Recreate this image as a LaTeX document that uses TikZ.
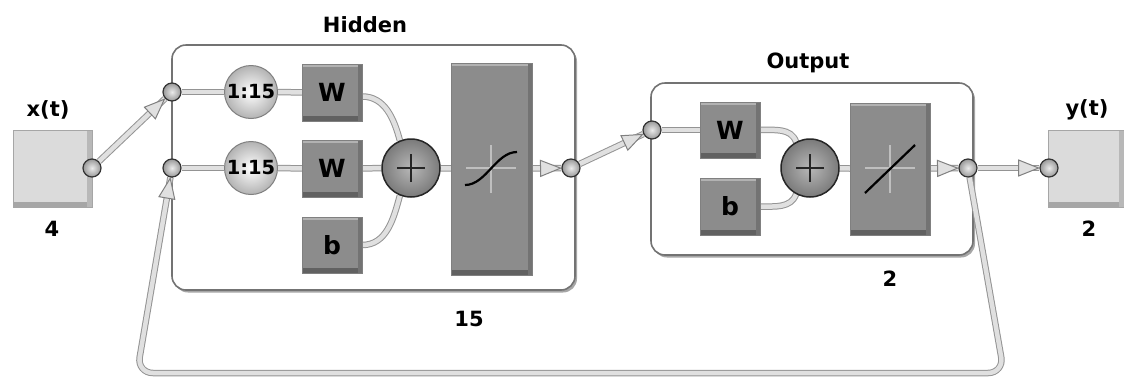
\documentclass[tikz,border=0pt]{standalone}
\usepackage{fontspec}
\setmainfont{DejaVu Sans}
\usetikzlibrary{shapes.geometric,shadows}
\pgfdeclarelayer{back}
\pgfdeclarelayer{mid}
\pgfsetlayers{back,mid,main}
\tikzset{
  lbl/.style={font=\bfseries\fontsize{21}{24}\selectfont, inner sep=0pt},
  group/.style={draw=black!55, line width=1.6pt, fill=white, rounded corners=14pt,
    drop shadow={shadow xshift=2pt, shadow yshift=-2.5pt, fill=black!35, opacity=1}},
  blk/.style={draw=black!50, fill=black!45, inner sep=0pt,
    font=\bfseries\fontsize{25}{26}\selectfont,
    path picture={
      \fill[black!30] (path picture bounding box.north west) rectangle ([yshift=-3pt]path picture bounding box.north east);
      \fill[black!62] (path picture bounding box.south west) rectangle ([yshift=5pt]path picture bounding box.south east);
      \fill[black!55] (path picture bounding box.south east) rectangle ([xshift=-4pt]path picture bounding box.north east);
    }},
  iobox/.style={draw=black!35, fill=black!14, inner sep=0pt, minimum width=77pt, minimum height=77pt,
    path picture={
      \fill[black!35] (path picture bounding box.south west) rectangle ([yshift=5pt]path picture bounding box.south east);
      \fill[black!28] (path picture bounding box.south east) rectangle ([xshift=-5pt]path picture bounding box.north east);
    }},
  jn/.style={circle, draw=black!80, line width=1.2pt, inner color=black!8, outer color=black!40,
    minimum size=18pt, inner sep=0pt},
  delay/.style={circle, draw=black!50, line width=1pt, inner color=white, outer color=black!30,
    minimum size=53pt, inner sep=0pt, font=\bfseries\fontsize{19.5}{20}\selectfont},
  sum/.style={circle, draw=black!85, line width=1.5pt, inner color=black!28, outer color=black!52,
    minimum size=58pt, inner sep=0pt,
    path picture={
      \draw[line width=2.6pt] ([xshift=-14pt]path picture bounding box.center) -- ([xshift=14pt]path picture bounding box.center);
      \draw[line width=2.6pt] ([yshift=-14pt]path picture bounding box.center) -- ([yshift=14pt]path picture bounding box.center);
    }},
  pipe/.style={draw=black!42, double=black!12, double distance=4.5pt, line width=1pt},
  tri/.style={isosceles triangle, isosceles triangle apex angle=70, isosceles triangle stretches,
    sharp corners, draw=black!50, fill=black!12, line width=1pt, minimum width=16pt, minimum height=20pt,
    inner sep=0pt, sloped},
  cross/.style={draw=black!25, line width=1.5pt},
  curve/.style={draw=black, line width=2.2pt}
}
\begin{document}
\begin{tikzpicture}[x=1pt,y=-1pt]
\useasboundingbox (0,0) rectangle (1124,381);

% groups
\begin{pgfonlayer}{back}
\node[group, minimum width=403pt, minimum height=245pt] (hidden) at (373.5,167.5) {};
\node[group, minimum width=322pt, minimum height=172pt] (output) at (812,169) {};
\end{pgfonlayer}

% labels
\node[lbl] (lx) at (48,110) {x(t)};
\node[lbl] (l4) at (52,229) {4};
\node[lbl] (lh) at (365,25) {Hidden};
\node[lbl] (l15) at (469,319) {15};
\node[lbl] (lo) at (808,63) {Output};
\node[lbl] (l2a) at (890,279) {2};
\node[lbl] (ly) at (1087,110) {y(t)};
\node[lbl] (l2b) at (1089,229) {2};

% io boxes
\node[iobox, minimum width=79pt] (xin) at (52.5,168.5) {};
\node[iobox, minimum width=76pt] (yout) at (1086,168.5) {};

% hidden layer
\node[delay] (d1) at (251,92) {1:15};
\node[delay] (d2) at (251,168) {1:15};
\node[blk, minimum width=60pt, minimum height=57pt] (W1) at (332,92.5) {W};
\node[blk, minimum width=60pt, minimum height=57pt] (W2) at (332,168.5) {W};
\node[blk, minimum width=60pt, minimum height=56pt] (b1) at (332,245) {b};
\node[sum] (s1) at (411,168) {};
\node[blk, minimum width=81pt, minimum height=212pt] (tf1) at (491.5,169) {};
\draw[cross] (466,168) -- (516,168);
\draw[cross] (491,145) -- (491,193);
\draw[curve] (465,185) .. controls (486,185) and (496,152) .. (517,152);

% output layer
\node[blk, minimum width=60pt, minimum height=56pt] (W3) at (730,130) {W};
\node[blk, minimum width=60pt, minimum height=57pt] (b2) at (730,206.5) {b};
\node[sum] (s2) at (810,168) {};
\node[blk, minimum width=80pt, minimum height=132pt] (tf2) at (890,169) {};
\draw[cross] (865,168) -- (915,168);
\draw[cross] (890,145) -- (890,193);
\draw[curve] (865,193) -- (915,145);

% junctions
\node[jn] (cx) at (92,168) {};
\node[jn] (c1) at (172,92) {};
\node[jn] (c2) at (172,168) {};
\node[jn] (ch) at (571,168) {};
\node[jn] (co) at (652,130) {};
\node[jn] (cy) at (968,168) {};
\node[jn] (cyin) at (1049,168) {};

% connectors
\begin{pgfonlayer}{mid}
\draw[pipe] (cx) -- node[tri, pos=1, anchor=apex] (t1) {} (c1);
\draw[pipe] (c1) -- (d1);
\draw[pipe] (d1) -- (W1);
\draw[pipe] (c2) -- (d2);
\draw[pipe] (d2) -- (W2);
\draw[pipe] (W2) -- (s1);
\draw[pipe] (W1.east) ++(0,4) to[out=0, in=105] (s1.112);
\draw[pipe] (b1.east) to[out=0, in=-105] (s1.-112);
\draw[pipe] (s1) -- (tf1);
\draw[pipe] (tf1) -- node[tri, pos=1, anchor=apex] (t2) {} (ch);
\draw[pipe] (ch) -- node[tri, pos=1, anchor=apex] (t3) {} (co);
\draw[pipe] (co) -- (W3);
\draw[pipe] (W3.east) to[out=0, in=110] (s2.118);
\draw[pipe] (b2.east) to[out=0, in=-110] (s2.-118);
\draw[pipe] (s2) -- (tf2);
\draw[pipe] (tf2) -- node[tri, pos=1, anchor=apex] (t4) {} (cy);
\draw[pipe] (cy) -- node[tri, pos=1, anchor=apex] (t5) {} (cyin);
\draw[pipe, rounded corners=16pt] (cy) -- (1004,373) -- (137,373) -- node[tri, pos=1, anchor=apex] (t6) {} (c2);
\end{pgfonlayer}
\end{tikzpicture}
\end{document}
